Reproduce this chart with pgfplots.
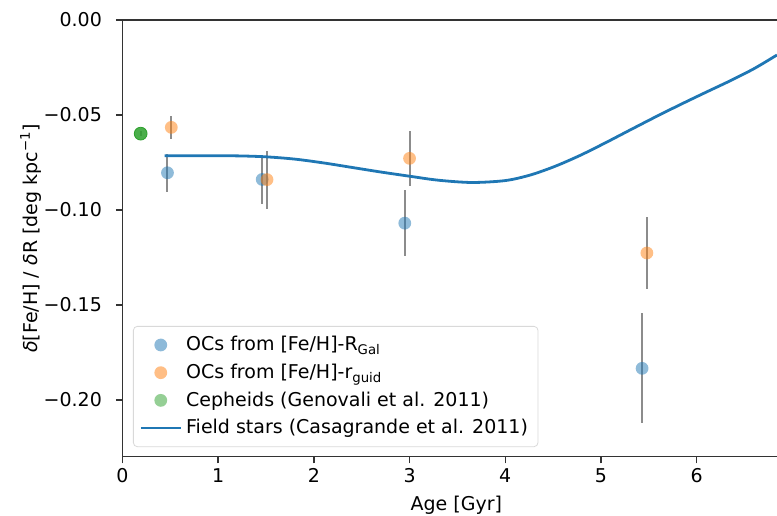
\documentclass[border=0pt]{standalone}
\usepackage{fontspec}
\setmainfont{DejaVu Sans}
\usepackage{pgfplots}
\pgfplotsset{compat=1.18}
\usetikzlibrary{calc}

\definecolor{tabblue}{HTML}{1F77B4}
\definecolor{taborange}{HTML}{FF7F0E}
\definecolor{tabgreen}{HTML}{2CA02C}
\definecolor{errgray}{HTML}{8C8C8C}

% open clusters, gradient from R_Gal
\pgfplotstableread{
age grad err
0.47 -0.0804 0.0100
1.46 -0.0839 0.0131
2.95 -0.1069 0.0174
5.43 -0.1833 0.0290
}\ocrgal
% open clusters, gradient from r_guid
\pgfplotstableread{
age grad err
0.51 -0.0565 0.0061
1.51 -0.0840 0.0152
3.00 -0.0728 0.0146
5.48 -0.1226 0.0191
}\ocrguid

\pgfplotsset{
    dot/.style={only marks, mark=*, mark size=3.2pt, color=#1,
        mark options={draw opacity=0, fill=#1, fill opacity=0.5}},
}

\begin{document}
\fontsize{9.5}{11.5}\selectfont
\begin{tikzpicture}
\begin{axis}[
    scale only axis,
    width=327.25pt, height=218.35pt,
    xmin=0, xmax=6.84,
    ymin=-0.2298, ymax=0,
    axis x line*=box, axis y line*=left,
    axis line style={line width=0.75pt, black!80},
    xtick={0,1,2,3,4,5,6},
    ytick={-0.20,-0.15,-0.10,-0.05,0},
    yticklabels={−0.20,−0.15,−0.10,−0.05,0.00},
    tick align=outside, xtick pos=bottom, ytick pos=left,
    major tick length=3.3pt,
    tick style={line width=0.75pt, black!80},
    /pgf/number format/assume math mode=true,
    tick label style={font=\fontsize{9.5}{11}\selectfont, inner sep=0pt},
    xticklabel shift=2.3pt, yticklabel shift=6.8pt,
    xlabel={Age [Gyr]},
    ylabel={\textit{δ}[Fe/H] / \textit{δ}R [deg kpc\textsuperscript{−1}]},
    every axis x label/.style={at={(axis description cs:0.51,-0.112)}, anchor=center},
    every axis y label/.style={at={(axis description cs:-0.14,0.5)}, rotate=90, anchor=center},
    legend image code/.code={\draw[mark repeat=2,mark phase=2,#1] plot coordinates {(0pt,0pt) (10pt,0pt) (20pt,0pt)};},
    legend style={at={(axis description cs:0.016,0.022)}, anchor=south west,
        draw=black!15, rounded corners=2pt, fill=white, fill opacity=0.8, text opacity=1,
        font=\fontsize{9.5}{11}\selectfont, row sep=1.2pt, inner xsep=3pt, inner ysep=3pt},
    legend cell align=left,
    error bars/error bar style={errgray, line width=1pt, opacity=1},
    error bars/error mark=none,
]
\addlegendimage{dot=tabblue}
\addlegendentry{OCs from [Fe/H]-R\textsubscript{Gal}}
\addlegendimage{dot=taborange}
\addlegendentry{OCs from [Fe/H]-r\textsubscript{guid}}
\addlegendimage{dot=tabgreen}
\addlegendentry{Cepheids (Genovali et al. 2011)}

\addplot[forget plot, dot=tabblue, error bars/.cd, y dir=both, y explicit]
    table[x=age, y=grad, y error=err] {\ocrgal};
\addplot[forget plot, dot=taborange, error bars/.cd, y dir=both, y explicit]
    table[x=age, y=grad, y error=err] {\ocrguid};
\addplot[forget plot, dot=tabgreen, mark options={fill opacity=0.85},
    error bars/.cd, y dir=both, y explicit]
    coordinates {(0.19,-0.0598) +- (0,0.0012)};

% field stars
\addplot[tabblue, line width=1.4pt, smooth, tension=0.5] coordinates {
    (0.44,-0.0714) (0.8,-0.0714) (1.2,-0.0715) (1.5,-0.0720) (1.8,-0.0732)
    (2.1,-0.0752) (2.4,-0.0776) (2.7,-0.0800) (3.0,-0.0822) (3.3,-0.0843)
    (3.65,-0.0855) (4.0,-0.0845) (4.26,-0.0816) (4.52,-0.0770) (4.78,-0.0713)
    (5.04,-0.0648) (5.30,-0.0580) (5.57,-0.0510) (5.83,-0.0445) (6.09,-0.0382)
    (6.35,-0.0320) (6.6,-0.0256) (6.84,-0.0184)
};
\addlegendentry{Field stars (Casagrande et al. 2011)}
\end{axis}
\pgfresetboundingbox
\path[use as bounding box] ($(current axis.south west)+(-61.25pt,-29.15pt)$) rectangle ($(current axis.north east)+(0pt,10pt)$);
\end{tikzpicture}
\end{document}
